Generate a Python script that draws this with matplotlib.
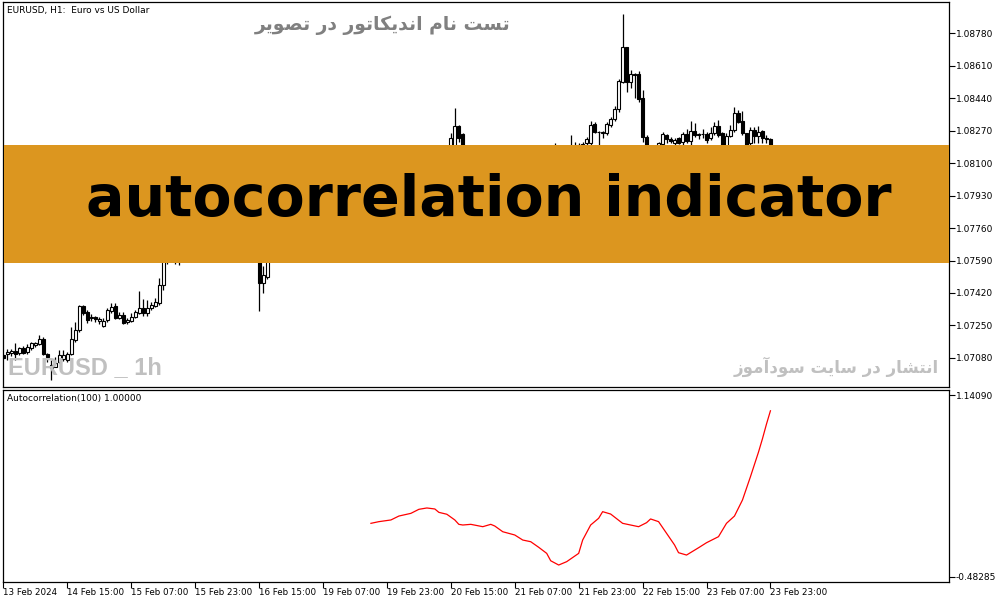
import numpy as np
import matplotlib.pyplot as plt
from matplotlib.patches import Rectangle

plt.rcParams['font.family'] = ['DejaVu Sans']

# hourly EURUSD candles, 13 Feb 23:00 .. 23 Feb 23:00 (read off the picture,
# the part under the orange banner is a rough guess)
opens = [
    1.07095, 1.07098, 1.07103, 1.07116, 1.07103, 1.07133, 1.07109, 1.07130, 1.07149, 1.07151,
    1.07180, 1.07100, 1.07042, 1.07034, 1.07060, 1.07072, 1.07069, 1.07100, 1.07173, 1.07226,
    1.07352, 1.07320, 1.07287, 1.07292, 1.07271, 1.07247, 1.07278, 1.07327, 1.07352, 1.07290,
    1.07304, 1.07266, 1.07275, 1.07296, 1.07317, 1.07339, 1.07317, 1.07339, 1.07352, 1.07365,
    1.07462, 1.07600, 1.07640, 1.07680, 1.07620, 1.07670, 1.07720, 1.07700, 1.07730, 1.07750,
    1.07735, 1.07745, 1.07740, 1.07750, 1.07775, 1.07760, 1.07780, 1.07795, 1.07810, 1.07790,
    1.07775, 1.07760, 1.07770, 1.07760, 1.07745, 1.07472, 1.07504, 1.07620, 1.07680, 1.07710,
    1.07740, 1.07730, 1.07750, 1.07770, 1.07790, 1.07780, 1.07795, 1.07810, 1.07800, 1.07815,
    1.07830, 1.07820, 1.07810, 1.07825, 1.07840, 1.07830, 1.07820, 1.07815, 1.07825, 1.07810,
    1.07805, 1.07815, 1.07820, 1.07830, 1.07825, 1.07835, 1.07830, 1.07820, 1.07815, 1.07800,
    1.07790, 1.07770, 1.07785, 1.07800, 1.07820, 1.07850, 1.07890, 1.07920, 1.07950, 1.07980,
    1.08020, 1.08060, 1.08100, 1.08185, 1.08295, 1.08251, 1.08150, 1.08130, 1.08145, 1.08135,
    1.08150, 1.08160, 1.08155, 1.08145, 1.08140, 1.08130, 1.08120, 1.08110, 1.08095, 1.08080,
    1.08070, 1.08050, 1.08060, 1.08090, 1.08110, 1.08130, 1.08120, 1.08140, 1.08160, 1.08175,
    1.08165, 1.08180, 1.08170, 1.08185, 1.08190, 1.08195, 1.08204, 1.08204, 1.08305, 1.08265,
    1.08258, 1.08256, 1.08303, 1.08330, 1.08382, 1.08527, 1.08707, 1.08527, 1.08567, 1.08567,
    1.08440, 1.08235, 1.08180, 1.08190, 1.08190, 1.08200, 1.08247, 1.08226, 1.08207, 1.08230,
    1.08212, 1.08251, 1.08218, 1.08268, 1.08247, 1.08251, 1.08251, 1.08230, 1.08256, 1.08295,
    1.08260, 1.08190, 1.08242, 1.08274, 1.08361, 1.08321, 1.08256, 1.08204, 1.08274, 1.08242,
    1.08268, 1.08233, 1.08225]
highs = [
    1.07100, 1.07128, 1.07124, 1.07156, 1.07138, 1.07142, 1.07151, 1.07165, 1.07165, 1.07200,
    1.07187, 1.07103, 1.07069, 1.07086, 1.07121, 1.07121, 1.07112, 1.07243, 1.07269, 1.07357,
    1.07357, 1.07331, 1.07308, 1.07299, 1.07296, 1.07287, 1.07339, 1.07369, 1.07365, 1.07322,
    1.07322, 1.07287, 1.07313, 1.07331, 1.07430, 1.07386, 1.07383, 1.07374, 1.07392, 1.07496,
    1.07640, 1.07660, 1.07700, 1.07720, 1.07690, 1.07740, 1.07760, 1.07740, 1.07770, 1.07780,
    1.07760, 1.07770, 1.07760, 1.07790, 1.07800, 1.07790, 1.07810, 1.07830, 1.07840, 1.07810,
    1.07800, 1.07790, 1.07800, 1.07780, 1.07760, 1.07560, 1.07650, 1.07700, 1.07730, 1.07760,
    1.07770, 1.07760, 1.07780, 1.07800, 1.07810, 1.07800, 1.07820, 1.07830, 1.07825, 1.07840,
    1.07855, 1.07840, 1.07830, 1.07850, 1.07860, 1.07850, 1.07840, 1.07835, 1.07845, 1.07830,
    1.07825, 1.07835, 1.07840, 1.07850, 1.07845, 1.07855, 1.07845, 1.07840, 1.07830, 1.07820,
    1.07810, 1.07800, 1.07810, 1.07830, 1.07860, 1.07900, 1.07940, 1.07960, 1.08000, 1.08040,
    1.08080, 1.08120, 1.08256, 1.08391, 1.08300, 1.08260, 1.08175, 1.08160, 1.08170, 1.08160,
    1.08180, 1.08180, 1.08175, 1.08165, 1.08160, 1.08150, 1.08140, 1.08130, 1.08120, 1.08110,
    1.08100, 1.08080, 1.08100, 1.08130, 1.08150, 1.08170, 1.08160, 1.08180, 1.08204, 1.08190,
    1.08192, 1.08194, 1.08247, 1.08212, 1.08204, 1.08212, 1.08239, 1.08323, 1.08317, 1.08268,
    1.08270, 1.08317, 1.08344, 1.08399, 1.08539, 1.08882, 1.08710, 1.08588, 1.08574, 1.08583,
    1.08483, 1.08247, 1.08198, 1.08195, 1.08210, 1.08265, 1.08251, 1.08239, 1.08230, 1.08239,
    1.08265, 1.08282, 1.08323, 1.08312, 1.08260, 1.08282, 1.08265, 1.08291, 1.08317, 1.08326,
    1.08265, 1.08256, 1.08300, 1.08396, 1.08379, 1.08373, 1.08260, 1.08291, 1.08291, 1.08295,
    1.08274, 1.08247, 1.08230]
lows = [
    1.07072, 1.07069, 1.07089, 1.07069, 1.07095, 1.07100, 1.07100, 1.07121, 1.07138, 1.07147,
    1.07093, 1.07060, 1.06964, 1.07030, 1.07051, 1.07065, 1.07060, 1.07093, 1.07165, 1.07217,
    1.07304, 1.07264, 1.07275, 1.07269, 1.07257, 1.07240, 1.07269, 1.07313, 1.07282, 1.07282,
    1.07257, 1.07257, 1.07269, 1.07287, 1.07310, 1.07299, 1.07299, 1.07331, 1.07345, 1.07357,
    1.07435, 1.07570, 1.07600, 1.07570, 1.07565, 1.07650, 1.07690, 1.07670, 1.07710, 1.07720,
    1.07710, 1.07725, 1.07720, 1.07735, 1.07750, 1.07740, 1.07760, 1.07770, 1.07780, 1.07760,
    1.07740, 1.07730, 1.07750, 1.07730, 1.07325, 1.07420, 1.07493, 1.07600, 1.07650, 1.07690,
    1.07710, 1.07700, 1.07730, 1.07740, 1.07770, 1.07760, 1.07780, 1.07790, 1.07780, 1.07800,
    1.07810, 1.07800, 1.07790, 1.07810, 1.07820, 1.07810, 1.07800, 1.07795, 1.07805, 1.07790,
    1.07785, 1.07800, 1.07805, 1.07815, 1.07810, 1.07820, 1.07810, 1.07800, 1.07790, 1.07780,
    1.07760, 1.07750, 1.07770, 1.07790, 1.07810, 1.07840, 1.07870, 1.07900, 1.07930, 1.07960,
    1.08000, 1.08040, 1.08080, 1.08170, 1.08212, 1.08120, 1.08110, 1.08100, 1.08120, 1.08110,
    1.08130, 1.08140, 1.08135, 1.08125, 1.08120, 1.08110, 1.08100, 1.08080, 1.08060, 1.08050,
    1.08030, 1.08020, 1.08040, 1.08070, 1.08090, 1.08100, 1.08090, 1.08120, 1.08130, 1.08140,
    1.08150, 1.08150, 1.08150, 1.08160, 1.08165, 1.08170, 1.08195, 1.08195, 1.08256, 1.08195,
    1.08230, 1.08247, 1.08291, 1.08323, 1.08370, 1.08522, 1.08475, 1.08492, 1.08440, 1.08422,
    1.08212, 1.08150, 1.08140, 1.08150, 1.08160, 1.08180, 1.08204, 1.08207, 1.08195, 1.08200,
    1.08195, 1.08204, 1.08195, 1.08239, 1.08225, 1.08230, 1.08207, 1.08221, 1.08247, 1.08239,
    1.08170, 1.08175, 1.08235, 1.08265, 1.08309, 1.08247, 1.08170, 1.08195, 1.08204, 1.08204,
    1.08204, 1.08204, 1.08180]
closes = [
    1.07077, 1.07110, 1.07117, 1.07100, 1.07133, 1.07107, 1.07135, 1.07156, 1.07156, 1.07177,
    1.07100, 1.07082, 1.07025, 1.07055, 1.07093, 1.07095, 1.07100, 1.07177, 1.07226, 1.07352,
    1.07317, 1.07278, 1.07296, 1.07283, 1.07282, 1.07273, 1.07331, 1.07348, 1.07290, 1.07304,
    1.07264, 1.07278, 1.07296, 1.07320, 1.07339, 1.07317, 1.07339, 1.07357, 1.07374, 1.07462,
    1.07600, 1.07640, 1.07680, 1.07620, 1.07670, 1.07720, 1.07700, 1.07730, 1.07750, 1.07735,
    1.07745, 1.07740, 1.07750, 1.07775, 1.07760, 1.07780, 1.07795, 1.07810, 1.07790, 1.07775,
    1.07760, 1.07770, 1.07760, 1.07745, 1.07472, 1.07514, 1.07620, 1.07680, 1.07710, 1.07740,
    1.07730, 1.07750, 1.07760, 1.07790, 1.07780, 1.07795, 1.07810, 1.07800, 1.07815, 1.07830,
    1.07820, 1.07810, 1.07825, 1.07840, 1.07830, 1.07820, 1.07815, 1.07825, 1.07810, 1.07805,
    1.07815, 1.07820, 1.07830, 1.07825, 1.07835, 1.07830, 1.07820, 1.07815, 1.07800, 1.07790,
    1.07770, 1.07785, 1.07800, 1.07820, 1.07850, 1.07890, 1.07920, 1.07950, 1.07980, 1.08020,
    1.08060, 1.08100, 1.08233, 1.08295, 1.08233, 1.08150, 1.08130, 1.08145, 1.08135, 1.08150,
    1.08160, 1.08155, 1.08145, 1.08140, 1.08130, 1.08120, 1.08110, 1.08095, 1.08080, 1.08070,
    1.08050, 1.08060, 1.08090, 1.08110, 1.08130, 1.08120, 1.08140, 1.08160, 1.08175, 1.08165,
    1.08180, 1.08170, 1.08185, 1.08190, 1.08195, 1.08200, 1.08226, 1.08300, 1.08265, 1.08263,
    1.08262, 1.08305, 1.08331, 1.08382, 1.08530, 1.08707, 1.08527, 1.08567, 1.08565, 1.08436,
    1.08235, 1.08180, 1.08190, 1.08185, 1.08205, 1.08251, 1.08225, 1.08218, 1.08221, 1.08207,
    1.08251, 1.08218, 1.08268, 1.08247, 1.08251, 1.08254, 1.08221, 1.08260, 1.08295, 1.08247,
    1.08190, 1.08242, 1.08274, 1.08361, 1.08317, 1.08256, 1.08190, 1.08274, 1.08242, 1.08265,
    1.08230, 1.08225, 1.08195]

# Autocorrelation(100) sub window: (bar number, value)
acf_bars = [92, 94, 97, 99, 102, 104, 106, 108, 109, 111,
            113, 114, 115, 117, 120, 122, 123, 125, 128, 130,
            132, 134, 136, 137, 139, 141, 144, 145, 147, 149,
            150, 152, 155, 157, 159, 161, 162, 164, 166, 168,
            169, 171, 174, 176, 179, 181, 183, 185, 187, 189,
            190, 191, 192]
acf_vals = [-0.004, 0.011, 0.026, 0.061, 0.085, 0.121, 0.133, 0.124, 0.094, 0.077,
            0.026, -0.013, -0.019, -0.013, -0.034, -0.013, -0.028, -0.079, -0.108, -0.153,
            -0.168, -0.218, -0.272, -0.338, -0.376, -0.346, -0.272, -0.153, -0.019, 0.041,
            0.100, 0.079, -0.004, -0.019, -0.034, 0.002, 0.035, 0.011, -0.093, -0.197,
            -0.266, -0.287, -0.222, -0.177, -0.123, -0.004, 0.061, 0.204, 0.412, 0.630,
            0.750, 0.880, 1.000]

time_ticks = [0, 16, 32, 48, 64, 80, 96, 112, 128, 144, 160, 176, 192]
time_labels = ["13 Feb 2024", "14 Feb 15:00", "15 Feb 07:00", "15 Feb 23:00",
               "16 Feb 15:00", "19 Feb 07:00", "19 Feb 23:00", "20 Feb 15:00",
               "21 Feb 07:00", "21 Feb 23:00", "22 Feb 15:00", "23 Feb 07:00",
               "23 Feb 23:00"]
price_ticks = [1.07080, 1.07250, 1.07420, 1.07590, 1.07760, 1.07930,
               1.08100, 1.08270, 1.08440, 1.08610, 1.08780]
acf_ticks = [1.14090, -0.48285]

title_fa = "تست نام اندیکاتور در تصویر"
footer_fa = "انتشار در سایت سودآموز"

# presentation forms for the persian letters used (isolated, final, initial, medial)
FORMS = {
    'ا': ('\uFE8D', '\uFE8E'), 'آ': ('\uFE81', '\uFE82'),
    'د': ('\uFEA9', '\uFEAA'), 'ر': ('\uFEAD', '\uFEAE'),
    'ز': ('\uFEAF', '\uFEB0'), 'و': ('\uFEED', '\uFEEE'),
    'ت': ('\uFE95', '\uFE96', '\uFE97', '\uFE98'),
    'س': ('\uFEB1', '\uFEB2', '\uFEB3', '\uFEB4'),
    'ش': ('\uFEB5', '\uFEB6', '\uFEB7', '\uFEB8'),
    'ص': ('\uFEB9', '\uFEBA', '\uFEBB', '\uFEBC'),
    'م': ('\uFEE1', '\uFEE2', '\uFEE3', '\uFEE4'),
    'ن': ('\uFEE5', '\uFEE6', '\uFEE7', '\uFEE8'),
    'ی': ('\uFBFC', '\uFBFD', '\uFBFE', '\uFBFF'),
    'ک': ('\uFB8E', '\uFB8F', '\uFB90', '\uFB91'),
}


def shape_fa(text):
    out = []
    for k, ch in enumerate(text):
        if ch not in FORMS:
            out.append(ch)
            continue
        prev = text[k - 1] if k > 0 else ' '
        nxt = text[k + 1] if k + 1 < len(text) else ' '
        con_prev = prev in FORMS and len(FORMS[prev]) == 4
        con_next = len(FORMS[ch]) == 4 and nxt in FORMS
        f = FORMS[ch]
        if con_prev and con_next:
            out.append(f[3])
        elif con_prev:
            out.append(f[1])
        elif con_next:
            out.append(f[2])
        else:
            out.append(f[0])
    return ''.join(reversed(out))


W, H = 1003, 603
fig = plt.figure(figsize=(W / 100, H / 100), dpi=100)
fig.patch.set_facecolor('white')

ax = fig.add_axes([3 / W, 1 - 386.5 / H, 946 / W, 384.5 / H])
ax2 = fig.add_axes([3 / W, 1 - 581.5 / H, 946 / W, 192 / H])

o = np.array(opens)
hi = np.array(highs)
lo = np.array(lows)
c = np.array(closes)
x = np.arange(len(c))
up = c >= o
body_lo = np.minimum(o, c)
body_h = np.maximum(np.abs(c - o), 0.000005)

ax.vlines(x, lo, hi, color='black', lw=0.9, zorder=2)
ax.bar(x[up], body_h[up], 0.72, bottom=body_lo[up], facecolor='white',
       edgecolor='black', lw=0.8, zorder=3)
ax.bar(x[~up], body_h[~up], 0.72, bottom=body_lo[~up], facecolor='black',
       edgecolor='black', lw=0.8, zorder=3)

ax.set_xlim(-0.1, 236.7)
ax.set_ylim(1.06930, 1.08945)
ax.set_xticks([])
ax.yaxis.tick_right()
ax.set_yticks(price_ticks)
ax.set_yticklabels(['%.5f' % p for p in price_ticks])
ax.tick_params(axis='y', direction='out', length=4, width=0.8, labelsize=6.5, pad=1)

ax2.plot(acf_bars, acf_vals, color='red', lw=0.9)
ax2.set_xlim(-0.1, 236.7)
ax2.set_ylim(-0.5230, 1.1900)
ax2.yaxis.tick_right()
ax2.set_yticks(acf_ticks)
ax2.set_yticklabels(['%.5f' % v for v in acf_ticks])
ax2.tick_params(axis='y', direction='out', length=4, width=0.8, labelsize=6.5, pad=1)
ax2.set_xticks(time_ticks)
ax2.set_xticklabels(time_labels)
ax2.tick_params(axis='x', direction='out', length=4, width=0.8, labelsize=6.3, pad=1)
for lbl in ax2.get_xticklabels():
    lbl.set_ha('left')

for a in (ax, ax2):
    for s in a.spines.values():
        s.set_linewidth(0.9)
        s.set_color('black')

fig.text(7 / W, 1 - 10 / H, "EURUSD, H1:  Euro vs US Dollar", fontsize=6.5,
         va='center', ha='left')
fig.text(7 / W, 1 - 398 / H, "Autocorrelation(100) 1.00000", fontsize=6.5,
         va='center', ha='left')

fig.text(383 / W, 1 - 25 / H, shape_fa(title_fa), fontsize=13.5, fontweight='bold',
         color='#808080', ha='center', va='center')
fig.text(836 / W, 1 - 367 / H, shape_fa(footer_fa), fontsize=12, fontweight='bold',
         color='#c0c0c0', ha='center', va='center')
fig.text(8 / W, 1 - 368 / H, "EURUSD _ 1h", fontsize=17, fontweight='bold',
         family=['Liberation Sans', 'DejaVu Sans'], color='#c0c0c0',
         ha='left', va='center', zorder=10)

fig.add_artist(Rectangle((4 / W, 1 - 263 / H), 945 / W, 118 / H,
                         transform=fig.transFigure, facecolor='#dc961f',
                         edgecolor='none', zorder=5))
fig.text(489 / W, 1 - 216 / H, "autocorrelation indicator", fontsize=41,
         fontweight='bold', ha='center', va='baseline', color='black', zorder=6)

fig.savefig('out.png', dpi=100)
